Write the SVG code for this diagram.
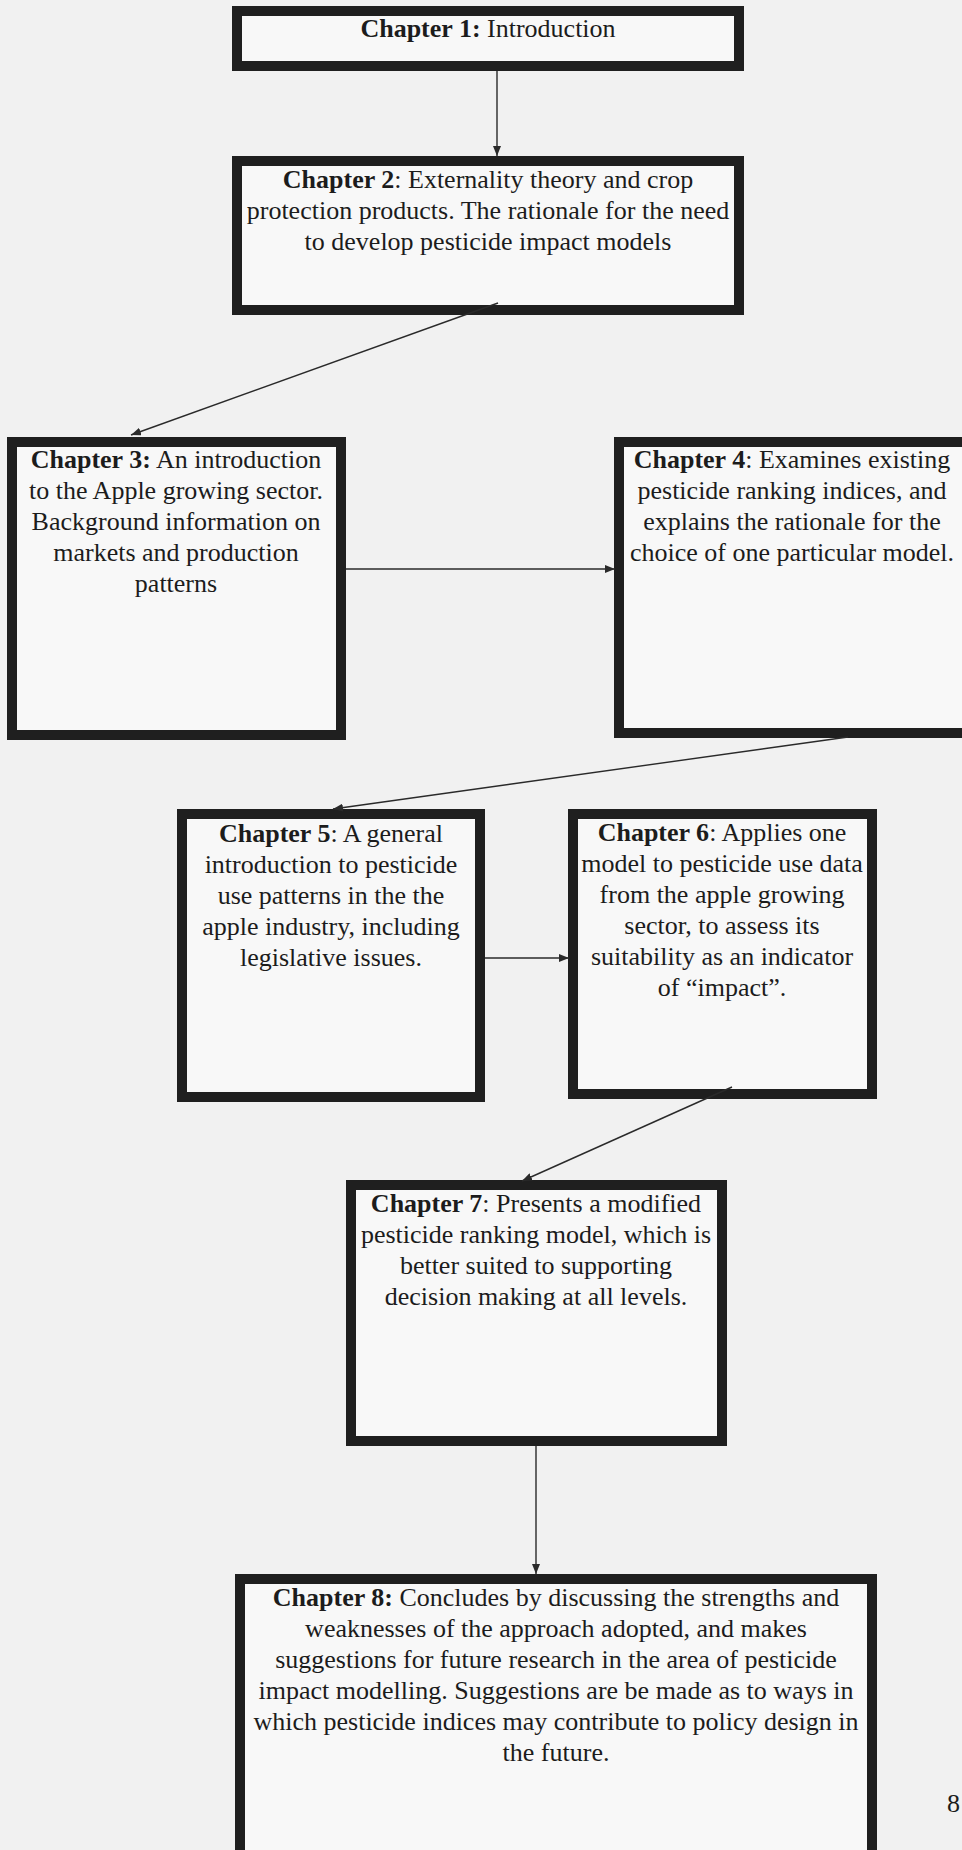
<svg xmlns="http://www.w3.org/2000/svg" width="962" height="1850" viewBox="0 0 962 1850">
<style>
.bg{fill:#f1f1f1}
.box{fill:#f8f8f8;stroke:#1f1f1f;stroke-width:10}
.t{font-family:"Liberation Serif","Times New Roman",serif;font-size:26px;fill:#1c1c1c;text-anchor:middle}
.b{font-weight:bold}
.c{stroke:#2a2a2a;stroke-width:1.4;fill:none}
</style>
<defs>
<marker id="ah" markerUnits="userSpaceOnUse" markerWidth="10" markerHeight="8" refX="10" refY="4" orient="auto">
<path d="M0,0 L10,4 L0,8 z" fill="#2a2a2a"/>
</marker>
</defs>
<rect class="bg" x="0" y="0" width="962" height="1850"/>

<g id="node1">
<rect class="box" x="237" y="11" width="502" height="55"/>
<text class="t" x="488" y="37"><tspan class="b">Chapter 1:</tspan> Introduction</text>
</g>

<g id="node2">
<rect class="box" x="237" y="161" width="502" height="149"/>
<text class="t" x="488" y="188"><tspan class="b">Chapter 2</tspan>: Externality theory and crop</text>
<text class="t" x="488" y="219">protection products. The rationale for the need</text>
<text class="t" x="488" y="250">to develop pesticide impact models</text>
</g>

<g id="node3">
<rect class="box" x="12" y="442" width="329" height="293"/>
<text class="t" x="176" y="468"><tspan class="b">Chapter 3:</tspan> An introduction</text>
<text class="t" x="176" y="499">to the Apple growing sector.</text>
<text class="t" x="176" y="530">Background information on</text>
<text class="t" x="176" y="561">markets and production</text>
<text class="t" x="176" y="592">patterns</text>
</g>

<g id="node4">
<rect class="box" x="619" y="442" width="351" height="291"/>
<text class="t" x="792" y="468"><tspan class="b">Chapter 4</tspan>: Examines existing</text>
<text class="t" x="792" y="499">pesticide ranking indices, and</text>
<text class="t" x="792" y="530">explains the rationale for the</text>
<text class="t" x="792" y="561">choice of one particular model.</text>
</g>

<g id="node5">
<rect class="box" x="182" y="814" width="298" height="283"/>
<text class="t" x="331" y="842"><tspan class="b">Chapter 5</tspan>: A general</text>
<text class="t" x="331" y="873">introduction to pesticide</text>
<text class="t" x="331" y="904">use patterns in the the</text>
<text class="t" x="331" y="935">apple industry, including</text>
<text class="t" x="331" y="966">legislative issues.</text>
</g>

<g id="node6">
<rect class="box" x="573" y="814" width="299" height="280"/>
<text class="t" x="722" y="841"><tspan class="b">Chapter 6</tspan>: Applies one</text>
<text class="t" x="722" y="872">model to pesticide use data</text>
<text class="t" x="722" y="903">from the apple growing</text>
<text class="t" x="722" y="934">sector, to assess its</text>
<text class="t" x="722" y="965">suitability as an indicator</text>
<text class="t" x="722" y="996">of “impact”.</text>
</g>

<g id="node7">
<rect class="box" x="351" y="1185" width="371" height="256"/>
<text class="t" x="536" y="1212"><tspan class="b">Chapter 7</tspan>: Presents a modified</text>
<text class="t" x="536" y="1243">pesticide ranking model, which is</text>
<text class="t" x="536" y="1274">better suited to supporting</text>
<text class="t" x="536" y="1305">decision making at all levels.</text>
</g>

<g id="node8">
<rect class="box" x="240" y="1579" width="632" height="290"/>
<text class="t" x="556" y="1606"><tspan class="b">Chapter 8:</tspan> Concludes by discussing the strengths and</text>
<text class="t" x="556" y="1637">weaknesses of the approach adopted, and makes</text>
<text class="t" x="556" y="1668">suggestions for future research in the area of pesticide</text>
<text class="t" x="556" y="1699">impact modelling. Suggestions are be made as to ways in</text>
<text class="t" x="556" y="1730">which pesticide indices may contribute to policy design in</text>
<text class="t" x="556" y="1761">the future.</text>
</g>

<g id="connectors">
<line class="c" x1="497" y1="71" x2="497" y2="156" marker-end="url(#ah)"/>
<line class="c" x1="498" y1="303" x2="131" y2="435" marker-end="url(#ah)"/>
<line class="c" x1="346" y1="569" x2="615" y2="569" marker-end="url(#ah)"/>
<line class="c" x1="848" y1="737" x2="333" y2="809" marker-end="url(#ah)"/>
<line class="c" x1="485" y1="958" x2="569" y2="958" marker-end="url(#ah)"/>
<line class="c" x1="732" y1="1087" x2="522" y2="1181" marker-end="url(#ah)"/>
<line class="c" x1="536" y1="1446" x2="536" y2="1574" marker-end="url(#ah)"/>
</g>

<text class="t" x="947" y="1812" style="text-anchor:start">8</text>
</svg>
